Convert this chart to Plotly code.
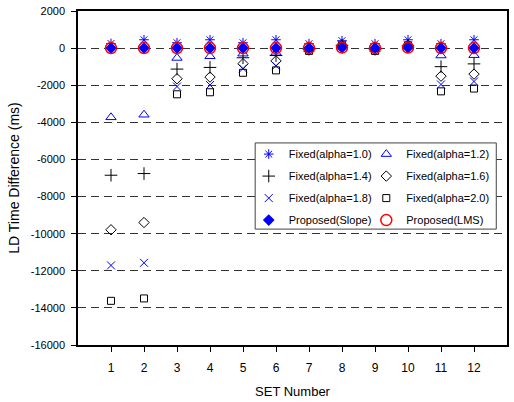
import plotly.graph_objects as go

sets = [1, 2, 3, 4, 5, 6, 7, 8, 9, 10, 11, 12]
alpha10 = [250, 450, 290, 450, 290, 450, 240, 400, 240, 450, 240, 450]
alpha12 = [-3730, -3590, -530, -440, -300, -250, -50, 200, -50, 100, -400, -380]
alpha14 = [-6850, -6760, -1130, -1040, -520, -400, -60, 150, -60, 120, -1000, -850]
alpha16 = [-9790, -9400, -1650, -1560, -840, -690, -80, 150, -80, 130, -1510, -1400]
alpha18 = [-11710, -11570, -2070, -1990, -1100, -950, -100, 150, -90, 140, -1960, -1800]
alpha20 = [-13620, -13490, -2490, -2380, -1330, -1200, -150, 150, -150, 150, -2330, -2180]
slope = [0, 0, 0, 0, 0, 0, 0, 30, 0, 30, 0, 0]
lms = [0, 0, 0, 0, 0, 0, 0, 30, 0, 30, 0, 0]

y_ticks = [2000, 0, -2000, -4000, -6000, -8000, -10000, -12000, -14000, -16000]

BLUE = "#0000FF"
BLACK = "#000000"
RED = "#FF0000"

series = [
    ("Fixed(alpha=1.0)", alpha10, "asterisk-open", BLUE, 8, 1, "legend"),
    ("Fixed(alpha=1.2)", alpha12, "triangle-up-open", BLUE, 9, 1, "legend2"),
    ("Fixed(alpha=1.4)", alpha14, "cross-thin-open", BLACK, 9, 1, "legend"),
    ("Fixed(alpha=1.6)", alpha16, "diamond-open", BLACK, 8, 1, "legend2"),
    ("Fixed(alpha=1.8)", alpha18, "x-thin-open", BLUE, 8, 1, "legend"),
    ("Fixed(alpha=2.0)", alpha20, "square-open", BLACK, 7, 1, "legend2"),
    ("Proposed(Slope)", slope, "diamond", BLUE, 9, 0, "legend"),
    ("Proposed(LMS)", lms, "circle-open", RED, 11, 1.5, "legend2"),
]

fig = go.Figure()
for i, (name, vals, sym, col, size, lw, leg) in enumerate(series):
    marker = dict(symbol=sym, color=col, size=size, line=dict(color=col, width=lw))
    fig.add_trace(go.Scatter(
        x=sets, y=vals, mode="markers", name=name, marker=marker,
        legend=leg, legendgroup="g%d" % i,
    ))

legend_common = dict(
    font=dict(family="Liberation Sans, Arial, sans-serif", size=11, color="black"),
    bgcolor="rgba(255,255,255,0)", borderwidth=0,
    traceorder="grouped", tracegroupgap=3,
    xanchor="left", yanchor="top", itemwidth=30,
)

fig.update_layout(
    width=514, height=402,
    margin=dict(l=78, r=5, t=11, b=54),
    paper_bgcolor="white", plot_bgcolor="white",
    font=dict(family="Liberation Sans, Arial, sans-serif", size=11, color="black"),
    showlegend=True,
    legend=dict(x=0.398, y=0.615, **legend_common),
    legend2=dict(x=0.672, y=0.615, **legend_common),
    xaxis=dict(
        range=[0, 13], tickmode="array", tickvals=sets, ticktext=[str(s) for s in sets],
        ticks="outside", ticklen=5, tickcolor="black", showgrid=False, zeroline=False,
        showline=True, linecolor="black", linewidth=1.5, mirror=True,
        ticklabelstandoff=6,
        title=dict(text="SET Number", font=dict(size=13), standoff=13),
        tickfont=dict(size=12),
    ),
    yaxis=dict(
        range=[-16000, 2000], tickmode="array", tickvals=y_ticks,
        ticktext=[str(v) for v in y_ticks],
        ticks="outside", ticklen=5, tickcolor="black",
        showgrid=True, gridcolor="#333333", griddash="8px,5px", gridwidth=1,
        zeroline=False,
        showline=True, linecolor="black", linewidth=1.5, mirror=True,
        ticklabelstandoff=4,
        title=dict(text="LD Time Difference (ms)", font=dict(size=14), standoff=8),
        tickfont=dict(size=11),
    ),
    shapes=[dict(
        type="rect", xref="paper", yref="paper",
        x0=0.413, x1=0.975, y0=0.347, y1=0.605,
        line=dict(color="#444444", width=1), fillcolor="white", layer="above",
    )],
)

fig.write_html("out.html", config={"displayModeBar": False},
               post_script="document.body.style.margin='0';")
